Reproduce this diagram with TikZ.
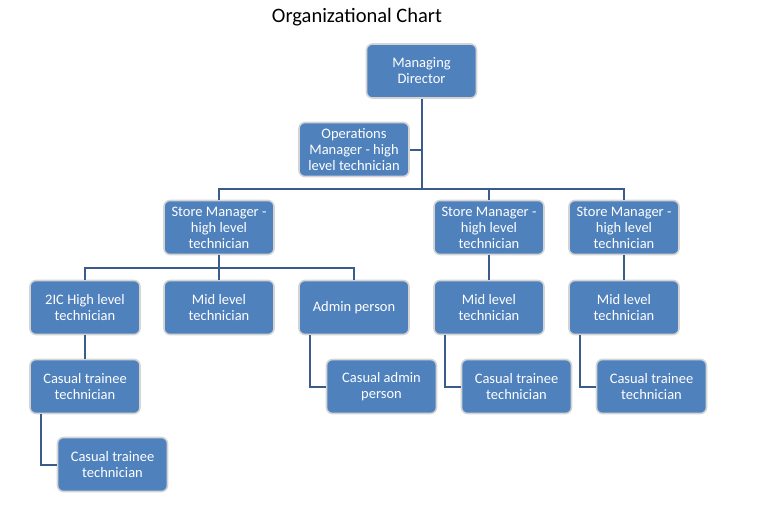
\documentclass[tikz,border=0pt]{standalone}
\usepackage{fontspec}
\setmainfont{Carlito}
\definecolor{boxblue}{HTML}{4F81BD}
\definecolor{boxedge}{HTML}{D4D4D4}
\definecolor{linkblue}{HTML}{3B5C8A}
\begin{document}
\begin{tikzpicture}[x=1pt,y=-1pt,
  orgbox/.style={draw=boxedge, line width=1.6pt, fill=boxblue, rounded corners=6pt,
    minimum width=110pt, minimum height=54pt, inner sep=2pt, text=white, align=center,
    font=\fontsize{14.5}{16}\selectfont},
  link/.style={draw=linkblue, line width=2pt}]
\useasboundingbox (0,0) rectangle (768,528);
\node[font=\fontsize{20.5}{24}\selectfont] (title) at (357,17) {Organizational Chart};

\node[orgbox] (md) at (421.5,71) {Managing\\Director};
\node[orgbox] (ops) at (354,149.5) {Operations\\Manager - high\\level technician};
\node[orgbox] (sm1) at (219,227.5) {Store Manager -\\high level\\technician};
\node[orgbox] (sm2) at (489,227.5) {Store Manager -\\high level\\technician};
\node[orgbox] (sm3) at (624,227.5) {Store Manager -\\high level\\technician};

\node[orgbox] (ic) at (85,307.5) {2IC High level\\technician};
\node[orgbox] (mid1) at (219,307.5) {Mid level\\technician};
\node[orgbox] (admin) at (354,307.5) {Admin person};
\node[orgbox] (mid2) at (489,307.5) {Mid level\\technician};
\node[orgbox] (mid3) at (624,307.5) {Mid level\\technician};

\node[orgbox] (ct1) at (85,386.5) {Casual trainee\\technician};
\node[orgbox] (cadmin) at (381.5,386.5) {Casual admin\\person};
\node[orgbox] (ct2) at (516.5,386.5) {Casual trainee\\technician};
\node[orgbox] (ct3) at (651.5,386.5) {Casual trainee\\technician};
\node[orgbox] (ct4) at (112.5,464.5) {Casual trainee\\technician};

\coordinate (bus1) at (421.5,188.5);
\coordinate (bus2) at (219,267.5);

\draw[link] (md.south) -- (bus1);
\draw[link] (ops.east) -- (ops.east -| md.south);
\draw[link] (sm1.north) |- (bus1) -| (sm3.north);
\draw[link] (bus1) -| (sm2.north);
\draw[link] (sm1.south) -- (mid1.north);
\draw[link] (ic.north) |- (bus2) -| (admin.north);
\draw[link] (sm2.south) -- (mid2.north);
\draw[link] (sm3.south) -- (mid3.north);
\draw[link] (ic.south) -- (ct1.north);
\draw[link] ([xshift=12pt]admin.south west) |- (cadmin.west);
\draw[link] ([xshift=12pt]mid2.south west) |- (ct2.west);
\draw[link] ([xshift=12pt]mid3.south west) |- (ct3.west);
\draw[link] ([xshift=12pt]ct1.south west) |- (ct4.west);
\end{tikzpicture}
\end{document}
